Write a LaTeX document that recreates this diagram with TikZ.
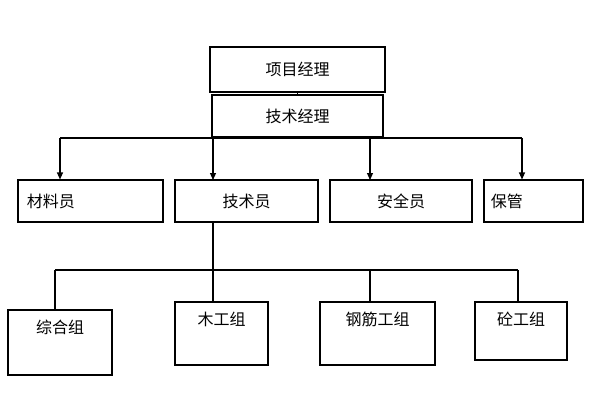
\documentclass[tikz,border=0pt]{standalone}
\usepackage{fontspec}
\setmainfont{Noto Sans CJK SC}
\usetikzlibrary{arrows.meta}
\begin{document}
\begin{tikzpicture}[x=1pt,y=-1pt,
  box/.style={draw,line width=1.1pt,inner sep=0pt},
  conn/.style={line width=1.1pt},
  arr/.style={line width=1.1pt,-{Triangle[length=7pt,width=6pt]}},
  every node/.style={font=\fontsize{16}{18}\selectfont}]
\useasboundingbox (0,0) rectangle (600,400);
% top
\node[box,minimum width=175,minimum height=45] (pm) at (297.5,69.5) {项目经理};
\node[box,minimum width=171,minimum height=42] (tm) at (297.5,116) {技术经理};
\draw[conn] (pm.south) -- (tm.north);

% middle row
\node[box,minimum width=145,minimum height=42,
  label={[anchor=west,xshift=6pt]west:材料员}] (cl) at (90.5,201) {};
\node[box,minimum width=143,minimum height=42] (js) at (246.5,201) {技术员};
\node[box,minimum width=142,minimum height=42] (aq) at (401,201) {安全员};
\node[box,minimum width=99,minimum height=42,
  label={[anchor=west,xshift=4pt]west:保管}] (bg) at (533.5,201) {};

\coordinate (h1) at (60,138);
\coordinate (h2) at (522,138);
\draw[conn] (h1) -- (h2);
\draw[arr] (h1) -- (h1 |- cl.north);
\draw[arr] (213,138) -- (213,180);
\draw[arr] (370,138) -- (370,180);
\draw[arr] (h2) -- (h2 |- bg.north);

% bottom row
\node[box,minimum width=104,minimum height=65,
  label={[anchor=north,yshift=-7pt]north:综合组}] (zh) at (60,342.5) {};
\node[box,minimum width=93,minimum height=63,
  label={[anchor=north,yshift=-7pt]north:木工组}] (mg) at (221.5,333.5) {};
\node[box,minimum width=115,minimum height=63,
  label={[anchor=north,yshift=-7pt]north:钢筋工组}] (gj) at (377.5,333.5) {};
\node[box,minimum width=92,minimum height=58,
  label={[anchor=north,yshift=-7pt]north:砼工组}] (tg) at (521,331) {};

\coordinate (b1) at (55,270);
\coordinate (b2) at (518,270);
\draw[conn] (213,222) -- (213,302);
\draw[conn] (b1) -- (b2);
\draw[conn] (b1) -- (b1 |- zh.north);
\draw[conn] (370,270) -- (370,302);
\draw[conn] (b2) -- (b2 |- tg.north);
\end{tikzpicture}
\end{document}
